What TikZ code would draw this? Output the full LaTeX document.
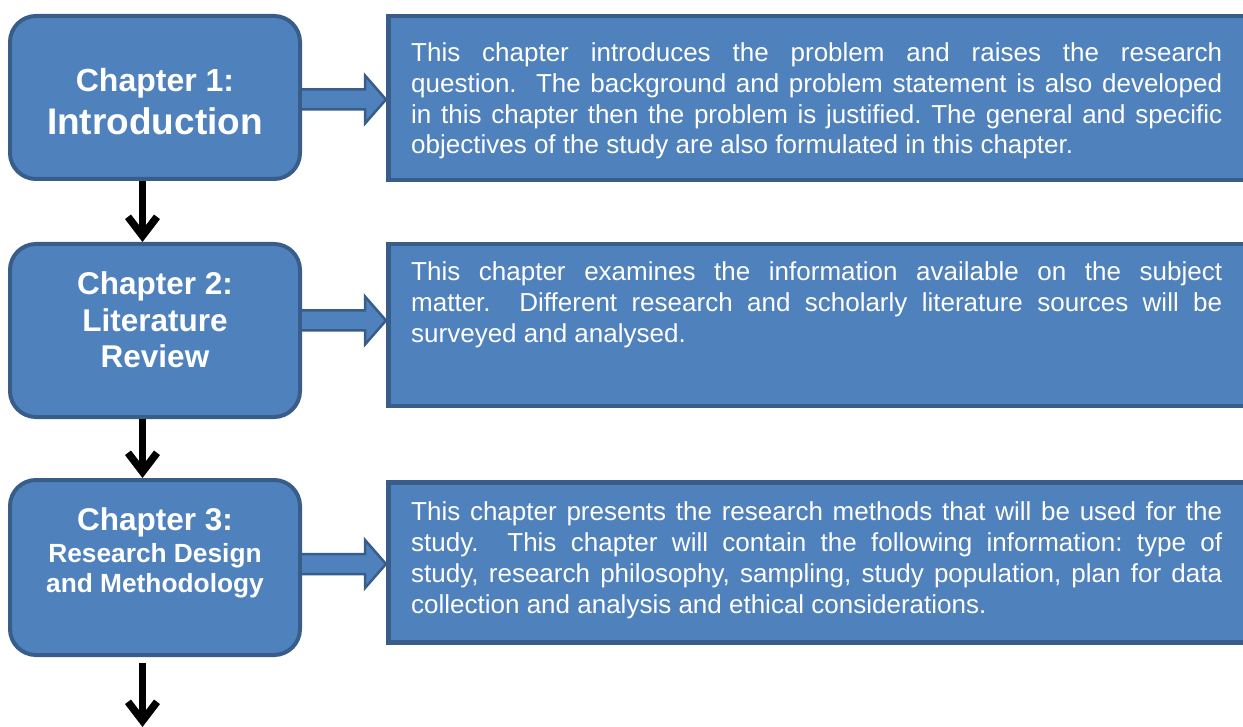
\documentclass[tikz,border=0pt]{standalone}
\usepackage{fontspec}
\setmainfont{Liberation Sans}
\usetikzlibrary{arrows.meta,calc}
\definecolor{boxfill}{HTML}{4F81BD}
\definecolor{boxline}{HTML}{385D8A}
\tikzset{
  chapbox/.style={rectangle, draw=boxline, fill=boxfill, line width=4pt,
    rounded corners=26pt, anchor=north west, minimum width=290pt, inner sep=0pt},
  descbox/.style={rectangle, draw=boxline, fill=boxfill, line width=4.5pt,
    anchor=north west, minimum width=880pt, inner sep=0pt},
  chaptext/.style={text=white, anchor=base, inner sep=0pt, font=\bfseries},
  desctext/.style={text=white, anchor=base west, inner sep=0pt},
  blockarrow/.style={draw=boxline, fill=boxfill, line width=2.5pt, line join=miter},
  downarrow/.style={draw=black, line width=7.5pt, -{Straight Barb[length=19pt,width=29pt]}},
}
\newcommand\blkarrow[3]{%
  \coordinate (ba-s) at (#1.east |- 0,#3);
  \coordinate (ba-t) at (#2.west |- 0,#3);
  \filldraw[blockarrow] ([yshift=-10pt]ba-s) -- ([xshift=-21pt,yshift=-10pt]ba-t)
    -- ([xshift=-21pt,yshift=-24pt]ba-t) -- (ba-t)
    -- ([xshift=-21pt,yshift=24pt]ba-t) -- ([xshift=-21pt,yshift=10pt]ba-t)
    -- ([yshift=10pt]ba-s);
}
\newcommand\desc[2]{\parbox[t]{811pt}{\fontsize{26}{#1}\selectfont\frenchspacing
  \tolerance=10000 \hbadness=10000 \hyphenpenalty=10000 \exhyphenpenalty=10000 #2}}
\begin{document}
\begin{tikzpicture}[x=1pt,y=-1pt]
\useasboundingbox (0,0) rectangle (1243,727);
\clip (0,0) rectangle (1243,727);

% chapter boxes
\node[chapbox, minimum height=163pt] (c1) at (8,14) {};
\node[chapbox, minimum height=173pt] (c2) at (8,242) {};
\node[chapbox, minimum height=175pt] (c3) at (8,478) {};

% description boxes
\node[descbox, minimum height=164pt] (r1) at (386,14) {};
\node[descbox, minimum height=162pt] (r2) at (386,242) {};
\node[descbox, minimum height=160pt] (r3) at (386,480) {};

% chapter titles
\node[chaptext] (t1) at (155,92) {\parbox[t]{285pt}{\centering
  \fontsize{32}{36}\selectfont Chapter 1:\\
  \fontsize{37}{42.5}\selectfont Introduction}};
\node[chaptext] (t2) at (155,295) {\parbox[t]{285pt}{\centering
  \fontsize{31.5}{36.5}\selectfont Chapter 2:\\ Literature\\ Review}};
\node[chaptext] (t3) at (155,530) {\parbox[t]{285pt}{\centering
  \fontsize{31.5}{36}\selectfont Chapter 3:\\
  \fontsize{26.3}{32}\selectfont Research Design\\
  \fontsize{26.3}{30}\selectfont and Methodology}};

% descriptions
\node[desctext] (d1) at (411,61.7) {\desc{30.7}{This chapter introduces the problem and raises the research\linebreak
 question.\ \ The background and problem statement is also developed\linebreak
 in this chapter then the problem is justified. The general and specific\linebreak
 objectives of the study are also formulated in this chapter.}};
\node[desctext] (d2) at (411,281) {\desc{31}{This chapter examines the information available on the subject\linebreak
 matter.\ \ Different research and scholarly literature sources will be\linebreak
 surveyed and analysed.}};
\node[desctext] (d3) at (411,520) {\desc{31}{This chapter presents the research methods that will be used for the\linebreak
 study.\ \ This chapter will contain the following information: type of\linebreak
 study, research philosophy, sampling, study population, plan for data\linebreak
 collection and analysis and ethical considerations.}};

% block arrows
\blkarrow{c1}{r1}{99.5}
\blkarrow{c2}{r2}{320.5}
\blkarrow{c3}{r3}{564}

% down arrows
\coordinate (ax) at (142.5,0);
\coordinate (bend) at (142.5,727);
\draw[downarrow] (c1.south -| ax) -- (c2.north -| ax);
\draw[downarrow] (c2.south -| ax) -- (c3.north -| ax);
\draw[downarrow, shorten <=6pt] (c3.south -| ax) -- (bend);
\end{tikzpicture}
\end{document}
